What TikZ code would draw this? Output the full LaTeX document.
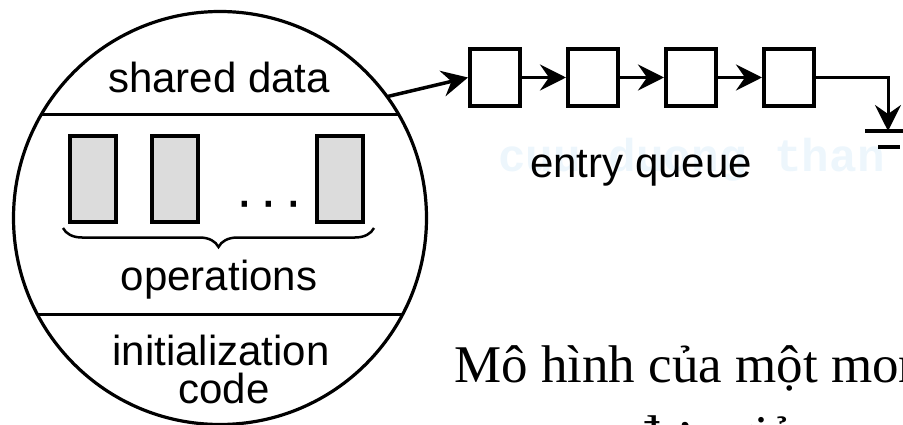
\documentclass[tikz,border=0pt]{standalone}
\usepackage{fontspec}
\setmainfont{Liberation Sans}
\newfontfamily\captionfont{Liberation Serif}
\newfontfamily\markfont{Liberation Mono}
\usepackage{xcolor}
\definecolor{opgray}{RGB}{220, 220, 220}
\definecolor{marklight}{RGB}{237, 246, 252}
\usetikzlibrary{positioning, arrows.meta, decorations.pathreplacing}

\begin{document}
\begin{tikzpicture}[
    x=1pt, y=-1pt,
    node distance=44pt,
    font=\fontsize{42}{48}\selectfont,
    monitor/.style={circle, draw, line width=3.2pt, minimum size=413pt, inner sep=0pt, outer sep=0pt},
    opbox/.style={rectangle, draw, fill=opgray, line width=4pt, minimum width=46pt, minimum height=86pt, inner sep=0pt},
    qbox/.style={rectangle, draw, line width=4pt, minimum width=50pt, minimum height=57pt, inner sep=0pt},
    link/.style={line width=3.5pt, -{Stealth[length=26pt, width=26pt, inset=9pt]}},
    txt/.style={anchor=base, inner sep=0pt}
]
    \useasboundingbox (0,0) rectangle (903,425);
    \begin{scope}
    \clip (0,0) rectangle (903,425);

    % faint watermark behind the queue label
    \node[anchor=base west, inner sep=0pt, text=marklight, font=\markfont\bfseries\fontsize{46}{50}\selectfont] (mark) at (498,172) {cuu duong than};

    \node[monitor] (mon) at (220,218) {};
    \draw[line width=3pt] (mon.150) -- (mon.30);
    \draw[line width=3pt] (mon.208.5) -- (mon.-28.5);

    \node[txt] (shared) at (219,93) {shared data};

    \node[opbox] (op1) at (93,179) {};
    \node[opbox, right=32pt of op1] (op2) {};
    \node[opbox, right=115pt of op2] (opn) {};
    \node[txt, font=\fontsize{56}{60}\selectfont] (dots) at (269,219) {·\kern6pt·\kern6pt·};
    \draw[decorate, decoration={brace, mirror, amplitude=19pt}, line width=2.5pt]
        ([xshift=-5pt, yshift=-4pt]op1.south west) -- ([xshift=9pt, yshift=-4pt]opn.south east);

    \node[txt] (opname) at (219,290) {operations};
    \node[txt] (init) at (221,365) {initialization};
    \node[txt] (code) at (224,403) {code};

    % entry queue
    \node[qbox] (q1) at (495,77.5) {};
    \node[qbox, right=of q1] (q2) {};
    \node[qbox, right=of q2] (q3) {};
    \node[qbox, right=of q3] (q4) {};
    \coordinate (gnd) at (888,131);

    \draw[link] (mon.36) -- (q1.west);
    \foreach \a/\b in {q1/q2, q2/q3, q3/q4}
        \draw[link] (\a) -- (\b);
    \draw[link, line width=3pt] (q4.east) -| (gnd);
    \draw[line width=3.5pt] ([xshift=-23pt]gnd) -- ([xshift=24pt]gnd);
    \draw[line width=3.5pt] ([xshift=-10pt, yshift=-16pt]gnd) -- ([xshift=12pt, yshift=-16pt]gnd);

    \node[txt] (entry) at (641,178) {entry queue};

    % caption, cut off by the frame
    \node[anchor=base west, inner sep=0pt, font=\captionfont\fontsize{53}{60}\selectfont] (cap1) at (454,382) {Mô hình của một monitor};
    \path (cap1.base) ++(0,70) node[txt, font=\captionfont\fontsize{53}{60}\selectfont] (cap2) {đơn giản};
    \end{scope}
\end{tikzpicture}
\end{document}
